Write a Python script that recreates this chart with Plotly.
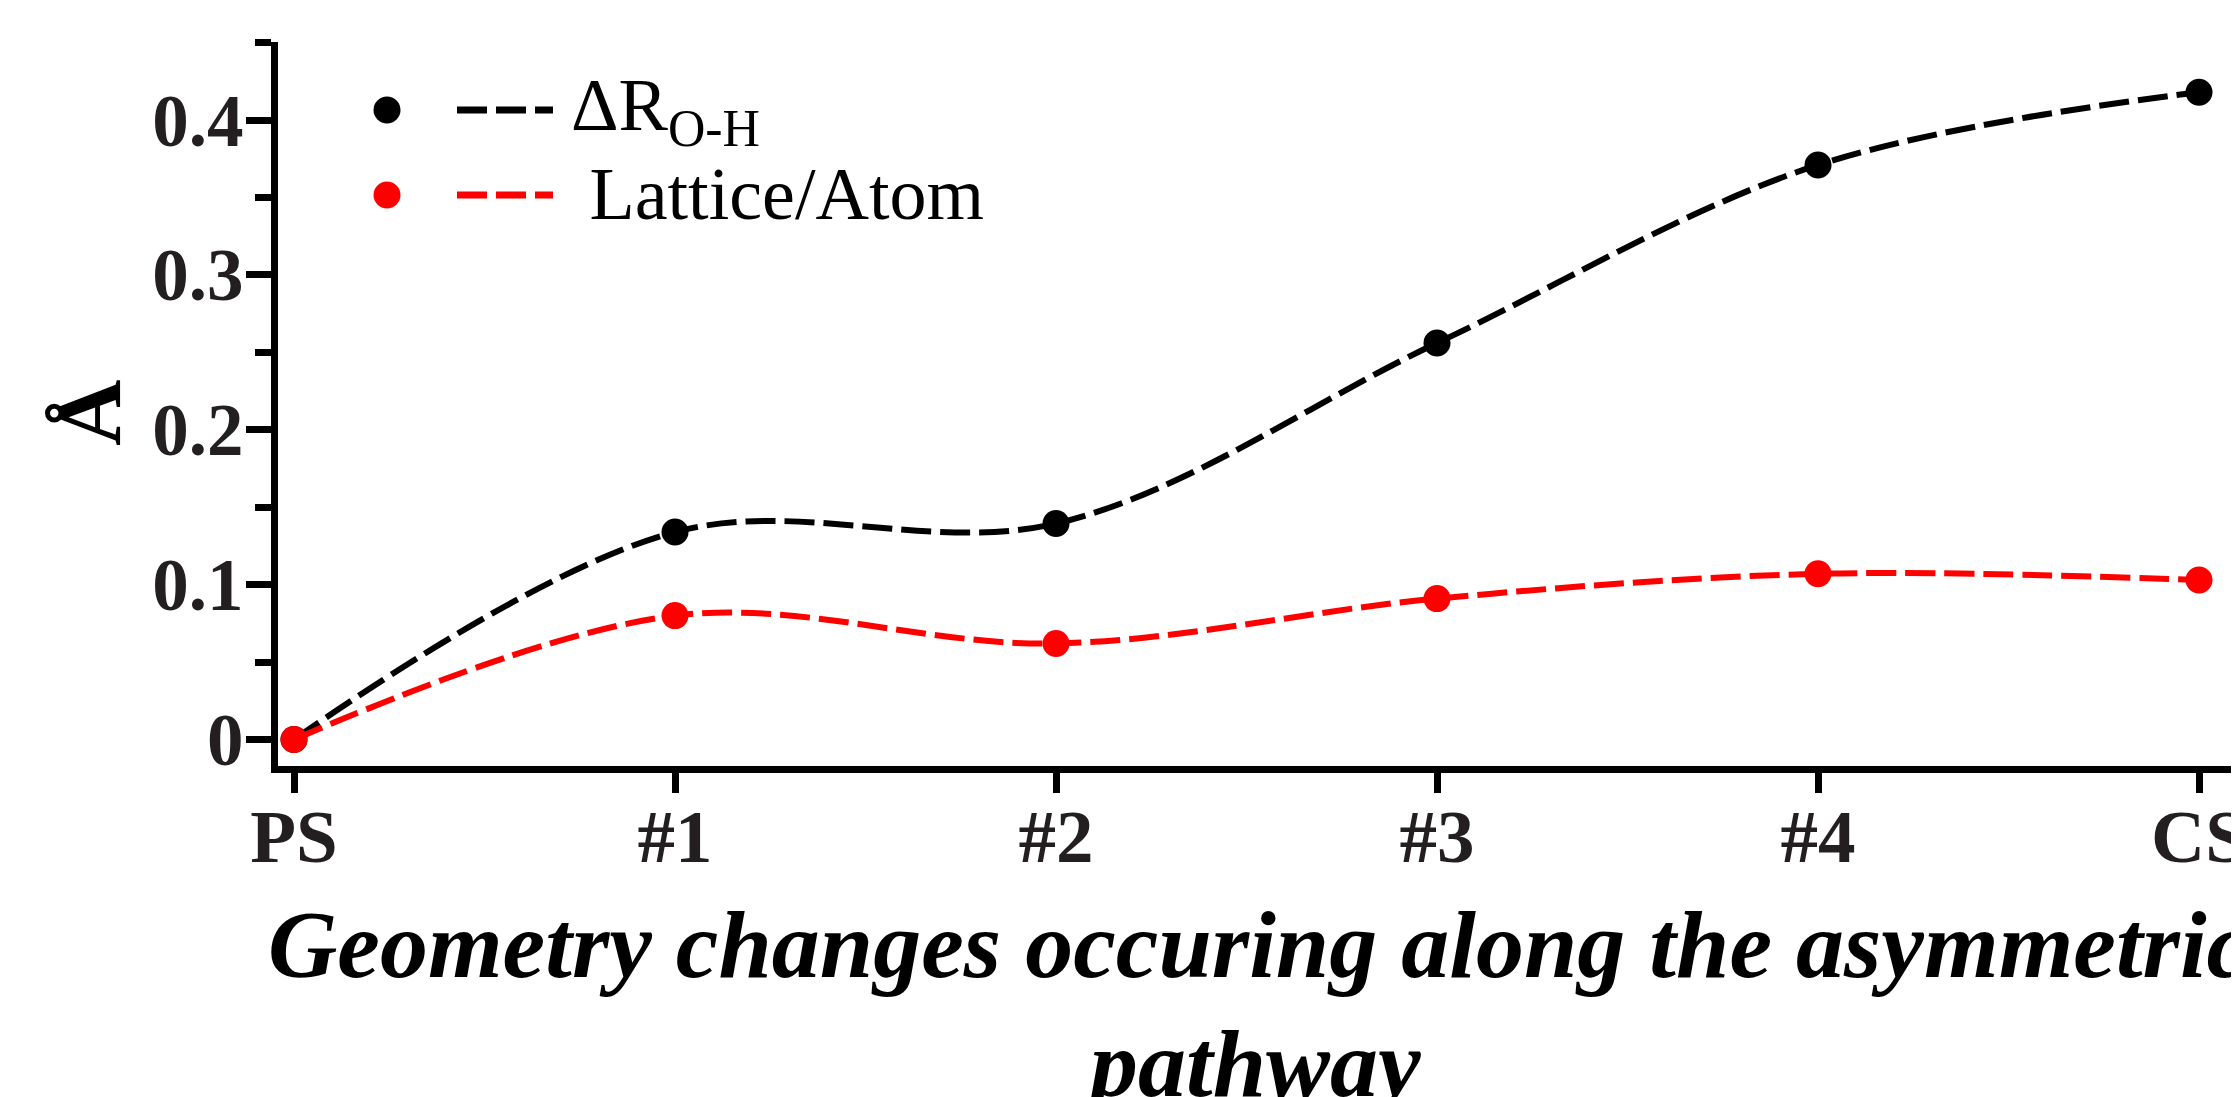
import plotly.graph_objects as go

# ---- data ----
categories = ["PS", "#1", "#2", "#3", "#4", "CS"]
x_pos = [0, 1, 2, 3, 4, 5]
delta_roh = [0.0, 0.134, 0.1395, 0.256, 0.371, 0.418]
lattice_atom = [0.0, 0.080, 0.062, 0.091, 0.107, 0.103]
y_tickvals = [0, 0.1, 0.2, 0.3, 0.4]
y_ticktext = ["0", "0.1", "0.2", "0.3", "0.4"]
series_names = ["ΔR<sub>O-H</sub>", " Lattice/Atom"]
x_title_line1 = "Geometry changes occuring along the asymmetric"
x_title_line2 = "pathway"
y_title = "Å"

# page body has an 8px margin; figure sized to fill the rest of the window
OFF = 8
W, H = 2239 - OFF, 1097 - OFF
L, R, T, B = 270, 0, 34, 331
PW = W - L - R
PH = H - T - B


def px_x(p):  # window pixel -> paper
    return (p - OFF - L) / PW


def px_y(p):
    return (H - B - (p - OFF)) / PH


FONT = "Liberation Serif"
TXT = "#231f20"

fig = go.Figure()
colors = ["black", "red"]
for ys, c, n in zip([delta_roh, lattice_atom], colors, series_names):
    fig.add_trace(go.Scatter(
        x=x_pos, y=ys, mode="lines+markers", name=n,
        line=dict(color=c, width=6, dash="30px,9px", shape="spline", smoothing=1.0),
        marker=dict(color=c, size=27),
        showlegend=False, cliponaxis=False,
    ))

fig.update_layout(
    width=W, height=H,
    margin=dict(l=L, r=R, t=T, b=B, pad=0),
    paper_bgcolor="white", plot_bgcolor="white",
    showlegend=False,
)

fig.update_xaxes(
    range=[-0.042, 5.105], automargin=False,
    tickmode="array", tickvals=x_pos, ticktext=categories,
    showgrid=False, zeroline=False,
    showline=True, linecolor="black", linewidth=7,
    ticks="outside", ticklen=20, tickwidth=7, tickcolor="black",
    tickfont=dict(family=FONT, size=75, color=TXT, weight="bold"),
    ticklabelstandoff=-21, ticklabeloverflow="allow",
)
fig.update_yaxes(
    range=[-0.0171, 0.4504], automargin=False,
    tickmode="array", tickvals=y_tickvals, ticktext=y_ticktext,
    showgrid=False, zeroline=False,
    showline=True, linecolor="black", linewidth=7,
    ticks="outside", ticklen=25, tickwidth=7, tickcolor="black",
    tickfont=dict(family=FONT, size=73, color=TXT, weight="bold"),
    ticklabelstandoff=-12,
    minor=dict(dtick=0.05, tick0=0, ticks="outside", ticklen=16, tickwidth=7, tickcolor="black", showgrid=False),
)

# manual legend (dot, short dashed line, label) as in the reference
leg_rows = [110, 195]
leg_text_rows = [111, 194]
for (row, trow, c, n) in zip(leg_rows, leg_text_rows, colors, series_names):
    fig.add_shape(type="circle", xref="paper", yref="paper",
                  xsizemode="pixel", ysizemode="pixel",
                  xanchor=px_x(387), yanchor=px_y(row),
                  x0=-13.5, x1=13.5, y0=-13.5, y1=13.5,
                  fillcolor=c, line=dict(width=0))
    fig.add_shape(type="line", xref="paper", yref="paper",
                  x0=px_x(457), x1=px_x(553), y0=px_y(row), y1=px_y(row),
                  line=dict(color=c, width=7, dash="30px,9px"))
    fig.add_annotation(xref="paper", yref="paper", x=px_x(569), y=px_y(trow),
                       xanchor="left", yanchor="middle", showarrow=False,
                       text=n, font=dict(family=FONT, size=74, color="black"))

# axis titles
fig.add_annotation(xref="paper", yref="paper", x=px_x(1258), y=px_y(944),
                   xanchor="center", yanchor="middle", showarrow=False,
                   text="<b><i>" + x_title_line1 + "</i></b>",
                   font=dict(family=FONT, size=96, color="black"))
fig.add_annotation(xref="paper", yref="paper", x=px_x(1252), y=px_y(1063),
                   xanchor="center", yanchor="middle", showarrow=False,
                   text="<b><i>" + x_title_line2 + "</i></b>",
                   font=dict(family=FONT, size=96, color="black"))
fig.add_annotation(xref="paper", yref="paper", x=px_x(89), y=px_y(413),
                   xanchor="center", yanchor="middle", showarrow=False, textangle=-90,
                   text="<b>" + y_title + "</b>",
                   font=dict(family=FONT, size=92, color="black"))

fig.write_html("out.html")
